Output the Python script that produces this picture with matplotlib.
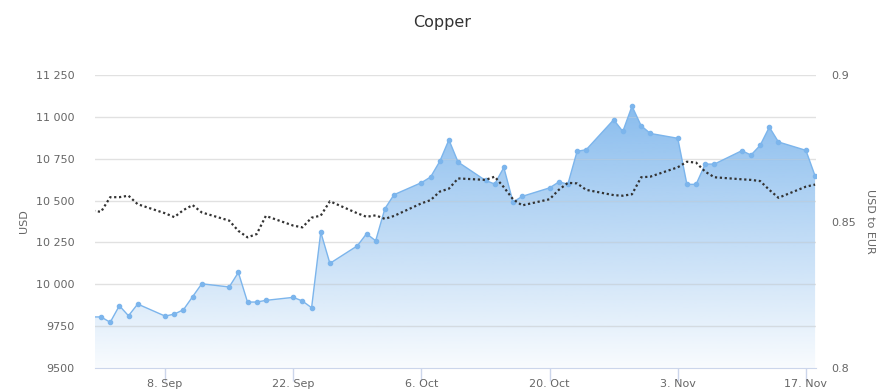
import matplotlib
matplotlib.use("Agg")
import matplotlib.pyplot as plt
import matplotlib.dates as mdates
import numpy as np
import pandas as pd
from matplotlib.ticker import FuncFormatter, FixedLocator

dates = ["2025-08-29",
         "2025-09-01", "2025-09-02", "2025-09-03", "2025-09-04", "2025-09-05",
         "2025-09-08", "2025-09-09", "2025-09-10", "2025-09-11", "2025-09-12",
         "2025-09-15", "2025-09-16", "2025-09-17", "2025-09-18", "2025-09-19",
         "2025-09-22", "2025-09-23", "2025-09-24", "2025-09-25", "2025-09-26",
         "2025-09-29", "2025-09-30", "2025-10-01", "2025-10-02", "2025-10-03",
         "2025-10-06", "2025-10-07", "2025-10-08", "2025-10-09", "2025-10-10",
         "2025-10-13", "2025-10-14", "2025-10-15", "2025-10-16", "2025-10-17",
         "2025-10-20", "2025-10-21", "2025-10-22", "2025-10-23", "2025-10-24",
         "2025-10-27", "2025-10-28", "2025-10-29", "2025-10-30", "2025-10-31",
         "2025-11-03", "2025-11-04", "2025-11-05", "2025-11-06", "2025-11-07",
         "2025-11-10", "2025-11-11", "2025-11-12", "2025-11-13", "2025-11-14",
         "2025-11-17", "2025-11-18"]

copper_usd = [9805,
              9805, 9773, 9872, 9812, 9882,
              9810, 9822, 9848, 9926, 10003,
              9984, 10071, 9894, 9894, 9904,
              9922, 9900, 9860, 10312, 10125,
              10230, 10302, 10260, 10451, 10535,
              10607, 10641, 10734, 10863, 10730,
              10620, 10599, 10698, 10491, 10525,
              10576, 10611, 10599, 10794, 10804,
              10983, 10913, 11064, 10947, 10901,
              10872, 10597, 10597, 10718, 10718,
              10798, 10772, 10830, 10939, 10850,
              10800, 10647]

usd_to_eur = [0.8545,
              0.8533, 0.8583, 0.8583, 0.8588, 0.8559,
              0.8528, 0.8515, 0.8539, 0.8556, 0.8531,
              0.8503, 0.8468, 0.8446, 0.8457, 0.8519,
              0.8486, 0.8480, 0.8513, 0.8520, 0.8569,
              0.8528, 0.8516, 0.8521, 0.8509, 0.8519,
              0.8562, 0.8573, 0.8602, 0.8612, 0.8647,
              0.8642, 0.8653, 0.8617, 0.8576, 0.8555,
              0.8576, 0.8608, 0.8632, 0.8630, 0.8608,
              0.8590, 0.8588, 0.8593, 0.8651, 0.8653,
              0.8685, 0.8704, 0.8701, 0.8670, 0.8651,
              0.8644, 0.8642, 0.8638, 0.8608, 0.8581,
              0.8619, 0.8626]

x_ticks = ["2025-09-08", "2025-09-22", "2025-10-06", "2025-10-20", "2025-11-03", "2025-11-17"]
x_tick_labels = ["8. Sep", "22. Sep", "6. Oct", "20. Oct", "3. Nov", "17. Nov"]
usd_ticks = [9500, 9750, 10000, 10250, 10500, 10750, 11000, 11250]
eur_ticks = [0.8, 0.85, 0.9]

x = mdates.date2num(pd.to_datetime(dates))
xt = mdates.date2num(pd.to_datetime(x_ticks))

fig = plt.figure(figsize=(8.84, 3.92), dpi=100)
ax = fig.add_axes([95/884, 1-368/392, (816-95)/884, (368-75)/392])

x0 = mdates.date2num(pd.Timestamp("2025-09-01")) - 0.66
x1 = mdates.date2num(pd.Timestamp("2025-11-18")) + 0.1
ax.set_xlim(x0, x1)
ax.set_ylim(9500, 11250)

# gradient fill
poly = ax.fill_between(x, copper_usd, 9500, color="none", lw=0)
grad = np.linspace(1, 0, 256).reshape(-1, 1)
rgba = np.zeros((256, 1, 4))
rgba[..., 0] = 124/255
rgba[..., 1] = 181/255
rgba[..., 2] = 236/255
rgba[..., 3] = 0.05 + 0.95 * grad
im = ax.imshow(rgba, extent=[x0, x1, 9500, 11250], aspect="auto", origin="upper", zorder=1)
path = poly.get_paths()[0]
im.set_clip_path(path, transform=ax.transData)

ax.plot(x, copper_usd, color="#7cb5ec", lw=1.0, marker="o", markersize=3.0, zorder=3)

for v in usd_ticks[1:]:
    ax.axhline(v, color="#e6e6e6", lw=1, zorder=0.5)
    ax.axhline(v, color="#d8d8d8", lw=0.8, alpha=0.35, zorder=1.5)

for s in ["top", "right", "left"]:
    ax.spines[s].set_visible(False)
ax.spines["bottom"].set_color("#ccd6eb")
ax.spines["bottom"].set_zorder(4)

ax.yaxis.set_major_locator(FixedLocator(usd_ticks))
def fmt(v, pos):
    v = int(round(v))
    if v >= 10000:
        return f"{v:,}".replace(",", " ")
    return str(v)
ax.yaxis.set_major_formatter(FuncFormatter(fmt))
ax.tick_params(axis="y", length=0, pad=15, labelsize=8, labelcolor="#666666")
ax.set_xticks(xt)
ax.set_xticklabels(x_tick_labels)
ax.tick_params(axis="x", length=9, width=1, color="#ccd6eb", pad=-1, labelsize=8, labelcolor="#666666")
ax.set_ylabel("USD", color="#666666", fontsize=8, labelpad=5)

ax2 = ax.twinx()
ax2.set_ylim(0.8, 0.9)
ax2.plot(x, usd_to_eur, color="#333333", lw=1.6, linestyle=(0, (1, 1.2)), zorder=5)
for s in ["top", "right", "left", "bottom"]:
    ax2.spines[s].set_visible(False)
ax2.yaxis.set_major_locator(FixedLocator(eur_ticks))
ax2.set_yticklabels(["0.8", "0.85", "0.9"])
ax2.tick_params(axis="y", length=0, pad=11, labelsize=8, labelcolor="#666666")
ax2.set_ylabel("USD to EUR", color="#666666", fontsize=8, rotation=270, labelpad=14)

fig.text(0.5, 1-22/392, "Copper", ha="center", va="center", fontsize=11.5, color="#333333")

fig.savefig("out.png", dpi=100)
